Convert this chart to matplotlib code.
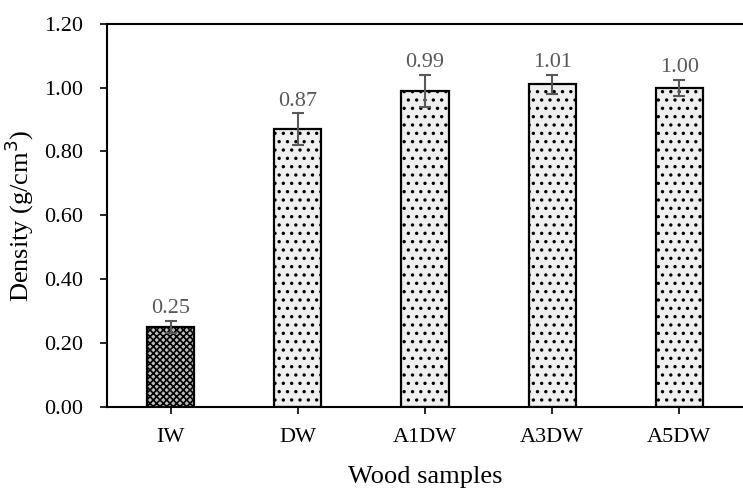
import numpy as np
import matplotlib.pyplot as plt

plt.rcParams['font.family'] = ['Liberation Serif', 'DejaVu Serif']
plt.rcParams['hatch.linewidth'] = 1.2

# data
samples = ['IW', 'DW', 'A1DW', 'A3DW', 'A5DW']
density = [0.25, 0.87, 0.99, 1.01, 1.00]
errors = [0.02, 0.05, 0.05, 0.03, 0.025]

fig = plt.figure(figsize=(7.43, 4.95), dpi=100)
ax = fig.add_axes([0.144, 0.178, 0.856, 0.774])

x = np.arange(len(samples))
bars = ax.bar(x, density, width=0.37, color='#efefef', edgecolor='black',
              linewidth=1.6, hatch='..', zorder=2)
bars[0].set_facecolor('#bdbdbd')
bars[0].set_hatch('xxxxx')

ax.errorbar(x, density, yerr=errors, fmt='none', ecolor='#595959',
            elinewidth=1.5, capsize=4, capthick=1.5, zorder=3)

for xi, v, e in zip(x, density, errors):
    ax.text(xi, v + e + 0.008, f'{v:.2f}', ha='center', va='bottom',
            fontsize=16, color='#595959')

ax.set_xlim(-0.5, 4.5)
ax.set_ylim(0, 1.2)
ax.set_yticks(np.arange(0, 1.21, 0.2))
ax.set_yticklabels([f'{t:.2f}' for t in np.arange(0, 1.21, 0.2)])
ax.set_xticks(x)
ax.set_xticklabels(samples)
ax.tick_params(labelsize=16, direction='out', length=5, width=1.2)
ax.tick_params(axis='x', pad=10)
ax.tick_params(axis='y', pad=12)

ax.spines['right'].set_visible(False)
for s in ['left', 'bottom', 'top']:
    ax.spines[s].set_linewidth(1.5)

ax.set_xlabel('Wood samples', fontsize=19, labelpad=14)
ax.set_ylabel('Density (g/cm$^3$)', fontsize=19, labelpad=6)

fig.savefig('out.png', dpi=100)
